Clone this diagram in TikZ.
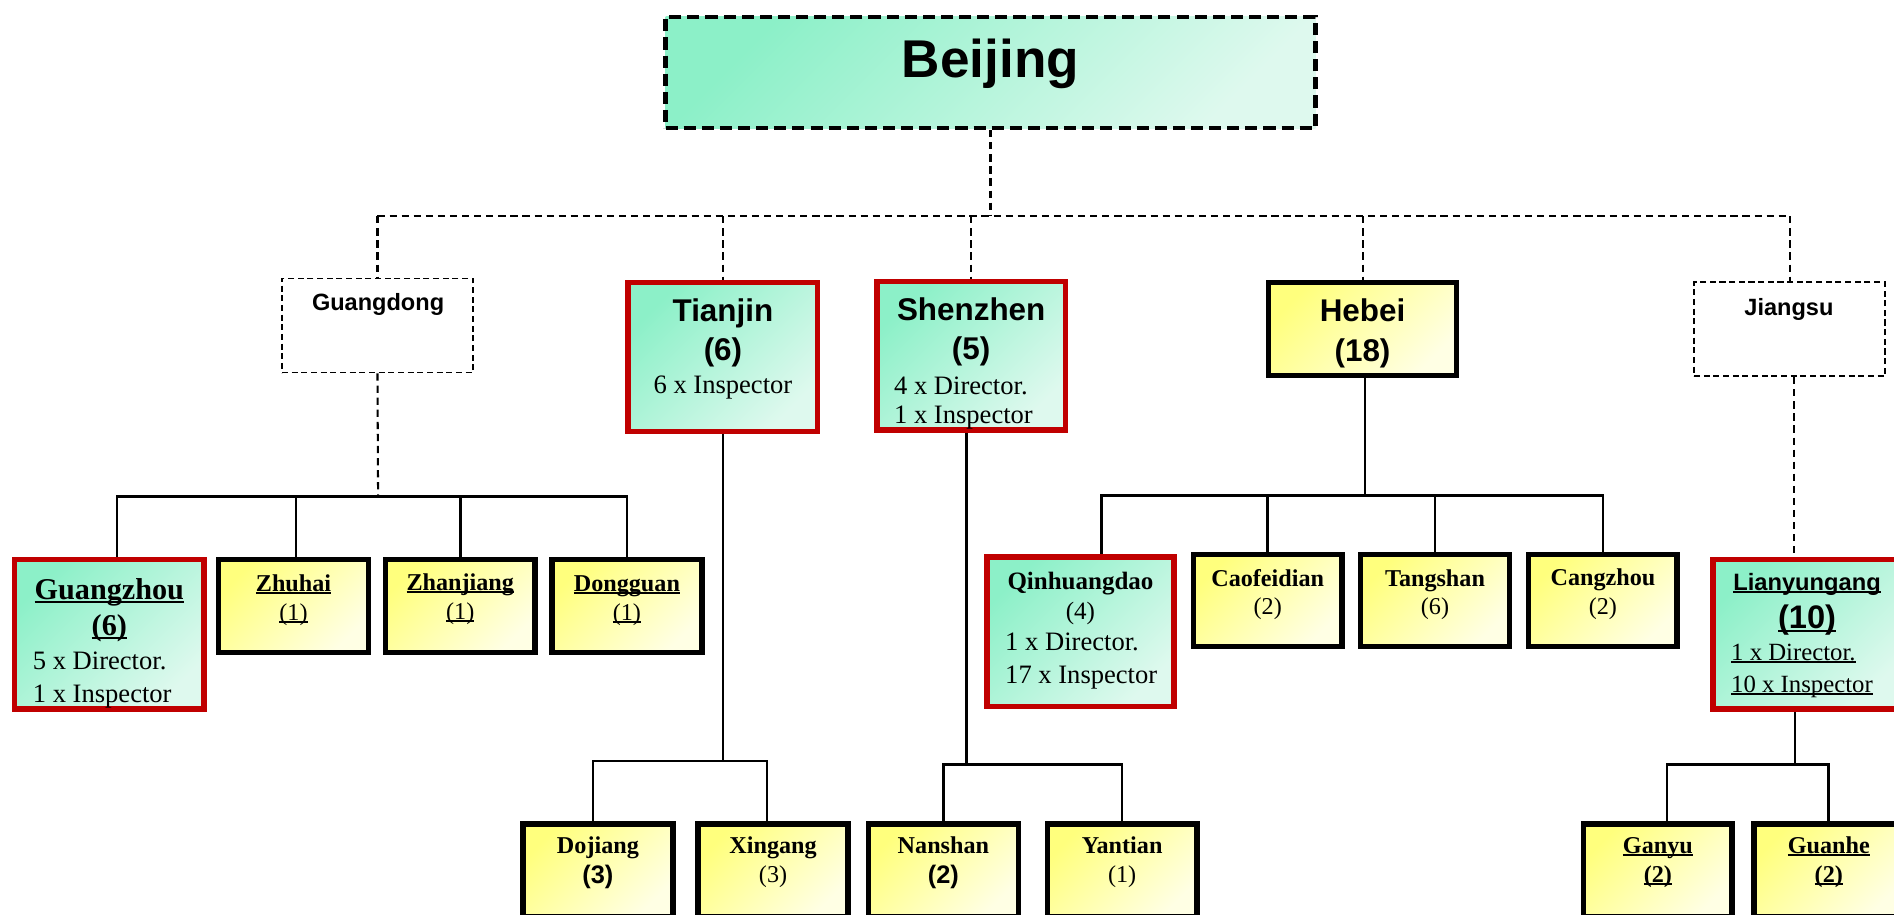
\documentclass[tikz,border=0pt]{standalone}
\usepackage{fontspec}
\setmainfont{Liberation Serif}
\setsansfont{Liberation Sans}
\usetikzlibrary{backgrounds}
\definecolor{gA}{RGB}{140,240,200}
\definecolor{gB}{RGB}{222,249,238}
\definecolor{yA}{RGB}{255,255,125}
\definecolor{yB}{RGB}{255,255,228}
\definecolor{redc}{RGB}{192,0,0}
\newcommand{\mySB}[1]{\sffamily\bfseries\fontsize{#1}{#1}\selectfont}
\newcommand{\myRM}[1]{\rmfamily\mdseries\fontsize{#1}{#1}\selectfont}
\newcommand{\myBF}[1]{\rmfamily\bfseries\fontsize{#1}{#1}\selectfont}
\newcommand{\myul}[1]{\leavevmode\setbox0=\hbox{#1}\rlap{\rule[-0.11em]{\wd0}{0.08em}}\box0}
\tikzset{
  gbox/.style={draw=redc, line width=4.5pt, top color=gA, bottom color=gB, shading angle=45, inner sep=0pt},
  ybox/.style={draw=black, line width=4.5pt, top color=yA, bottom color=yB, shading angle=45, inner sep=0pt},
  dbox/.style={draw=black, line width=1.4pt, dash pattern=on 5pt off 3pt, fill=white, inner sep=0pt},
  rootbox/.style={draw=black, line width=3.5pt, dash pattern=on 10pt off 5pt, top color=gA, bottom color=gB, shading angle=45, inner sep=0pt},
  conn/.style={draw=black, line width=2.2pt},
  dconn/.style={draw=black, line width=1.7pt, dash pattern=on 6pt off 4pt},
  lbl/.style={inner sep=0pt, anchor=base},
  lblw/.style={inner sep=0pt, anchor=base west},
}
\begin{document}
\begin{tikzpicture}[x=1pt,y=-1pt]
\useasboundingbox (0,0) rectangle (1568,757);
\clip (0,0) rectangle (1568,757);
% boxes
\node[rootbox, minimum width=538pt, minimum height=92pt] (beijing) at (820,60) {};
\node[dbox, minimum width=158pt, minimum height=78pt] (guangdong) at (312.5,269.5) {};
\node[gbox, minimum width=157pt, minimum height=123pt] (tianjin) at (598.5,295.5) {};
\node[gbox, minimum width=156pt, minimum height=123pt] (shenzhen) at (804,294.5) {};
\node[ybox, minimum width=156pt, minimum height=77pt] (hebei) at (1128,272.5) {};
\node[dbox, minimum width=158pt, minimum height=78pt] (jiangsu) at (1481.5,272.5) {};
\node[gbox, minimum width=157pt, minimum height=124pt] (guangzhou) at (90.5,525) {};
\node[ybox, minimum width=124pt, minimum height=77pt] (zhuhai) at (243,501.5) {};
\node[ybox, minimum width=124pt, minimum height=77pt] (zhanjiang) at (381,501.5) {};
\node[ybox, minimum width=124pt, minimum height=77pt] (dongguan) at (519,501.5) {};
\node[gbox, minimum width=155pt, minimum height=124pt] (qinhuangdao) at (894.5,523) {};
\node[ybox, minimum width=123pt, minimum height=76pt] (caofeidian) at (1049.5,497) {};
\node[ybox, minimum width=123pt, minimum height=76pt] (tangshan) at (1188,497) {};
\node[ybox, minimum width=123pt, minimum height=76pt] (cangzhou) at (1327,497) {};
\node[gbox, minimum width=157pt, minimum height=124pt] (lianyungang) at (1496.5,525) {};
\node[ybox, minimum width=124pt, minimum height=77pt] (dojiang) at (495,720.5) {};
\node[ybox, minimum width=124pt, minimum height=77pt] (xingang) at (640,720.5) {};
\node[ybox, minimum width=124pt, minimum height=77pt] (nanshan) at (781,720.5) {};
\node[ybox, minimum width=124pt, minimum height=77pt] (yantian) at (929,720.5) {};
\node[ybox, minimum width=123pt, minimum height=77pt] (ganyu) at (1372.5,720.5) {};
\node[ybox, minimum width=124pt, minimum height=77pt] (guanhe) at (1514,720.5) {};
% helper coordinates
\coordinate (bus0) at (820,179);
\coordinate (bus1) at (313,411);
\coordinate (bus2) at (599,630);
\coordinate (bus3) at (800,633);
\coordinate (bus4) at (1130,410);
\coordinate (bus5) at (1486,633);
\coordinate (gzTop) at ([xshift=6.5pt]guangzhou.north);
\coordinate (zhTop) at ([xshift=2pt]zhuhai.north);
\coordinate (djTop) at ([xshift=-4pt]dojiang.north);
\coordinate (xgTop) at ([xshift=-5pt]xingang.north);
\coordinate (szBot) at ([xshift=-4pt]shenzhen.south);
\coordinate (qhTop) at ([xshift=17.5pt]qinhuangdao.north);
\coordinate (hbBot) at ([xshift=2pt]hebei.south);
\coordinate (jsBot) at ([xshift=3.5pt]jiangsu.south);
\coordinate (lyBot) at ([xshift=-10.5pt]lianyungang.south);
\coordinate (gyTop) at ([xshift=7.5pt]ganyu.north);
\begin{scope}[on background layer]
\draw[dconn] (beijing.south) -- (bus0);
\draw[dconn] (guangdong.north |- bus0) -- (jiangsu.north |- bus0);
\foreach \n in {guangdong,tianjin,shenzhen,hebei,jiangsu}
  \draw[dconn] (\n.north |- bus0) -- (\n.north);
% Guangdong
\draw[dconn] (guangdong.south) -- (bus1);
\draw[conn] (gzTop) -- (gzTop |- bus1) -- (dongguan.north |- bus1) -- (dongguan.north);
\draw[conn] (zhTop) -- (zhTop |- bus1);
\draw[conn] (zhanjiang.north) -- (zhanjiang.north |- bus1);
% Tianjin
\draw[conn] (tianjin.south) -- (tianjin.south |- bus2);
\draw[conn] (djTop) -- (djTop |- bus2) -- (xgTop |- bus2) -- (xgTop);
% Shenzhen
\draw[conn] (szBot) -- (szBot |- bus3);
\draw[conn] (nanshan.north) -- (nanshan.north |- bus3) -- (yantian.north |- bus3) -- (yantian.north);
% Hebei
\draw[conn] (hbBot) -- (hbBot |- bus4);
\draw[conn] (qhTop) -- (qhTop |- bus4) -- (cangzhou.north |- bus4) -- (cangzhou.north);
\draw[conn] (caofeidian.north) -- (caofeidian.north |- bus4);
\draw[conn] (tangshan.north) -- (tangshan.north |- bus4);
% Jiangsu
\draw[dconn] (jsBot) -- (jsBot |- lianyungang.north);
\draw[conn] (lyBot) -- (lyBot |- bus5);
\draw[conn] (gyTop) -- (gyTop |- bus5) -- (guanhe.north |- bus5) -- (guanhe.north);
\end{scope}
% texts
\node[lbl] (t_beijing) at (820,64) {\mySB{44}Beijing};
\node[lbl] (t_guangdong) at (313,257) {\mySB{19.5}Guangdong};
\node[lbl] (t_jiangsu) at (1481,261) {\mySB{19.5}Jiangsu};
\node[lbl] (t_tianjin1) at (598.5,266.5) {\mySB{26}Tianjin};
\node[lbl] (t_tianjin2) at (598.5,298.5) {\mySB{26}(6)};
\node[lbl] (t_tianjin3) at (598.5,325.5) {\myRM{22}6 x Inspector};
\node[lbl] (t_shenzhen1) at (804,265.5) {\mySB{26}Shenzhen};
\node[lbl] (t_shenzhen2) at (804,297.5) {\mySB{26}(5)};
\node[lblw] (t_shenzhen3) at (740,326.5) {\myRM{22}4 x Director.};
\node[lblw] (t_shenzhen4) at (740,350.5) {\myRM{22}1 x Inspector};
\node[lbl] (t_hebei1) at (1128,266.5) {\mySB{26}Hebei};
\node[lbl] (t_hebei2) at (1128,299.5) {\mySB{26}(18)};
\node[lbl] (t_guangzhou1) at (90.5,496.5) {\myBF{25}\myul{Guangzhou}};
\node[lbl] (t_guangzhou2) at (90.5,526.5) {\myBF{25}\myul{(6)}};
\node[lblw] (t_guangzhou3) at (27,554.5) {\myRM{22}5 x Director.};
\node[lblw] (t_guangzhou4) at (27,581.5) {\myRM{22}1 x Inspector};
\node[lbl] (t_zhuhai1) at (243,489.5) {\myBF{20}\myul{Zhuhai}};
\node[lbl] (t_zhuhai2) at (243,513.5) {\myRM{20}\myul{(1)}};
\node[lbl] (t_zhanjiang1) at (381,488.5) {\myBF{20}\myul{Zhanjiang}};
\node[lbl] (t_zhanjiang2) at (381,512.5) {\myRM{20}\myul{(1)}};
\node[lbl] (t_dongguan1) at (519,489.5) {\myBF{20}\myul{Dongguan}};
\node[lbl] (t_dongguan2) at (519,513.5) {\myRM{20}\myul{(1)}};
\node[lbl] (t_qinhuangdao1) at (894.5,488) {\myBF{20.7}Qinhuangdao};
\node[lbl] (t_qinhuangdao2) at (894.5,513) {\myRM{20.7}(4)};
\node[lblw] (t_qinhuangdao3) at (832,538.5) {\myRM{22}1 x Director.};
\node[lblw] (t_qinhuangdao4) at (832,565.5) {\myRM{22}17 x Inspector};
\node[lbl] (t_caofeidian1) at (1049.5,485.5) {\myBF{20}Caofeidian};
\node[lbl] (t_caofeidian2) at (1049.5,508.5) {\myRM{20}(2)};
\node[lbl] (t_tangshan1) at (1188,485.5) {\myBF{20}Tangshan};
\node[lbl] (t_tangshan2) at (1188,508.5) {\myRM{20}(6)};
\node[lbl] (t_cangzhou1) at (1327,484.5) {\myBF{20}Cangzhou};
\node[lbl] (t_cangzhou2) at (1327,508.5) {\myRM{20}(2)};
\node[lbl] (t_lianyungang1) at (1496,489) {\mySB{19.6}\myul{Lianyungang}};
\node[lbl] (t_lianyungang2) at (1496,520.5) {\mySB{27}\myul{(10)}};
\node[lblw] (t_lianyungang3) at (1433,547) {\myRM{20.5}\myul{1 x Director.}};
\node[lblw] (t_lianyungang4) at (1433,573) {\myRM{20.5}\myul{10 x Inspector}};
\node[lbl] (t_dojiang1) at (495,706.5) {\myBF{20}Dojiang};
\node[lbl] (t_dojiang2) at (495,731.5) {\mySB{21}(3)};
\node[lbl] (t_xingang1) at (640,706.5) {\myBF{20}Xingang};
\node[lbl] (t_xingang2) at (640,730.5) {\myRM{20}(3)};
\node[lbl] (t_nanshan1) at (781,706.5) {\myBF{20}Nanshan};
\node[lbl] (t_nanshan2) at (781,731.5) {\mySB{21}(2)};
\node[lbl] (t_yantian1) at (929,706.5) {\myBF{20}Yantian};
\node[lbl] (t_yantian2) at (929,730.5) {\myRM{20}(1)};
\node[lbl] (t_ganyu1) at (1372.5,706.5) {\myBF{20}\myul{Ganyu}};
\node[lbl] (t_ganyu2) at (1372.5,730.5) {\myBF{20}\myul{(2)}};
\node[lbl] (t_guanhe1) at (1514,706.5) {\myBF{20}\myul{Guanhe}};
\node[lbl] (t_guanhe2) at (1514,730.5) {\myBF{20}\myul{(2)}};
\end{tikzpicture}
\end{document}
